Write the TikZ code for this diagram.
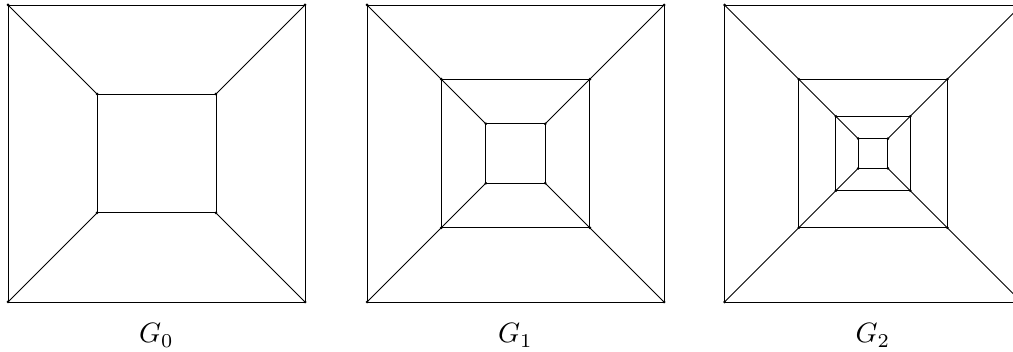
\documentclass[tikz,border=0pt]{standalone}
\begin{document}
\begin{tikzpicture}[x=1pt,y=-1pt,
  v/.style={circle,fill=black,inner sep=0pt,minimum size=3pt},
  e/.style={line width=0.8pt,black},
  lab/.style={anchor=base,scale=2.8,inner sep=0pt}]
\useasboundingbox (0,0) rectangle (1013,352);
\clip (0,0) rectangle (1013,352);
\foreach \g/\cx/\hlist in {0/156.5/{148.5,59.4}, 1/515.5/{148.5,74.25,29.7}, 2/873/{148.5,74.25,37.125,14.85}} {
  \foreach \h [count=\i] in \hlist {
    \node[v] (g\g-\i-a) at (\cx-\h,153.5-\h) {};
    \node[v] (g\g-\i-b) at (\cx+\h,153.5-\h) {};
    \node[v] (g\g-\i-c) at (\cx+\h,153.5+\h) {};
    \node[v] (g\g-\i-d) at (\cx-\h,153.5+\h) {};
    \draw[e] (g\g-\i-a.center) -- (g\g-\i-b.center) -- (g\g-\i-c.center) -- (g\g-\i-d.center) -- cycle;
    \ifnum\i>1
      \pgfmathtruncatemacro\j{\i-1}
      \draw[e] (g\g-\j-a.center) -- (g\g-\i-a.center);
      \draw[e] (g\g-\j-b.center) -- (g\g-\i-b.center);
      \draw[e] (g\g-\j-c.center) -- (g\g-\i-c.center);
      \draw[e] (g\g-\j-d.center) -- (g\g-\i-d.center);
    \fi
  }
  \node[lab] (lab\g) at (\cx,343) {$G_{\g}$};
}
\end{tikzpicture}
\end{document}
